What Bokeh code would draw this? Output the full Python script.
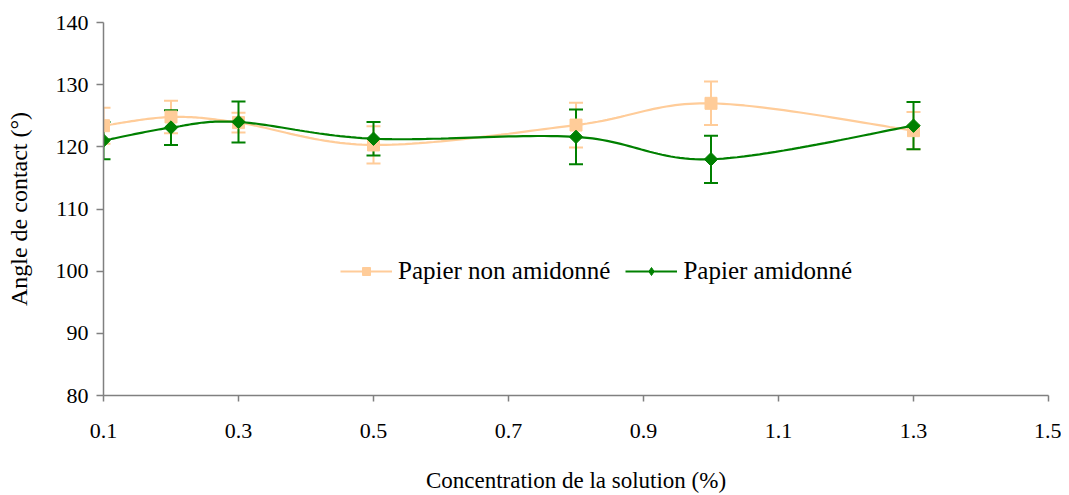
import numpy as np
from bokeh.plotting import figure
from bokeh.models import ColumnDataSource, Whisker, Range1d, FixedTicker, Legend, LegendItem
from bokeh.embed import file_html
from bokeh.resources import INLINE

# ---- data ----
concentration = [0.1, 0.2, 0.3, 0.5, 0.8, 1.0, 1.3]
non_starched = [123.4, 124.8, 123.9, 120.3, 123.5, 127.0, 122.6]
non_starched_err = [2.9, 2.6, 1.6, 3.0, 3.6, 3.5, 3.0]
starched = [121.0, 123.1, 124.0, 121.3, 121.6, 118.0, 123.4]
starched_err = [3.0, 2.8, 3.3, 2.7, 4.4, 3.8, 3.8]
x_ticks = [0.1, 0.3, 0.5, 0.7, 0.9, 1.1, 1.3, 1.5]
y_ticks = [80, 90, 100, 110, 120, 130, 140]
x_title = "Concentration de la solution (%)"
y_title = "Angle de contact (°)"
series_names = ["Papier non amidonné", "Papier amidonné"]

ORANGE = "#FFCC99"
GREEN = "#008000"
FONT = "'Liberation Serif', 'Times New Roman', serif"


def smooth(xs, ys, n=30):
    """Catmull-Rom style Bezier smoothing between the given points."""
    P = np.column_stack([xs, ys]).astype(float)
    out = [P[0]]
    for i in range(len(P) - 1):
        p0 = P[i - 1] if i > 0 else P[i]
        p1 = P[i]
        p2 = P[i + 1]
        p3 = P[i + 2] if i + 2 < len(P) else P[i + 1]
        c1 = p1 + (p2 - p0) / 6.0
        c2 = p2 - (p3 - p1) / 6.0
        t = np.linspace(0, 1, n)[1:, None]
        seg = ((1 - t) ** 3) * p1 + 3 * ((1 - t) ** 2) * t * c1 + 3 * (1 - t) * t ** 2 * c2 + t ** 3 * p2
        out.extend(seg)
    out = np.array(out)
    return out[:, 0], out[:, 1]


p = figure(width=1061, height=495, output_backend="svg", toolbar_location=None,
           x_range=Range1d(0.1, 1.5), y_range=Range1d(80, 140),
           min_border_left=103, min_border_right=13, min_border_top=22, min_border_bottom=100)
p.outline_line_color = None
p.xgrid.visible = False
p.ygrid.visible = False
p.background_fill_color = "white"
p.border_fill_color = "white"

for ax in (p.xaxis[0], p.yaxis[0]):
    ax.axis_line_color = "#808080"
    ax.axis_line_width = 1.5
    ax.major_tick_line_color = "#808080"
    ax.major_tick_line_width = 1.5
    ax.minor_tick_line_color = None
    ax.major_label_text_font = FONT
    ax.major_label_text_font_size = "22px"
    ax.major_label_text_color = "black"
    ax.axis_label_text_font = FONT
    ax.axis_label_text_font_style = "normal"
    ax.axis_label_text_color = "black"

p.xaxis.axis_label_text_font_size = "23px"
p.yaxis.axis_label_text_font_size = "24px"
p.xaxis.ticker = FixedTicker(ticks=x_ticks)
p.yaxis.ticker = FixedTicker(ticks=y_ticks)
p.xaxis.major_tick_in = 0
p.xaxis.major_tick_out = 6
p.yaxis.major_tick_in = 0
p.yaxis.major_tick_out = 7
p.xaxis.major_label_standoff = 22
p.yaxis.major_label_standoff = 8
p.xaxis.axis_label = x_title
p.yaxis.axis_label = y_title
p.xaxis.axis_label_standoff = 27
p.yaxis.axis_label_standoff = 21
p.xaxis.major_label_overrides = {t: f"{t:.1f}" for t in x_ticks}

# orange series
sx, sy = smooth(concentration, non_starched)
l1 = p.line(sx, sy, line_color=ORANGE, line_width=2.2)
src1 = ColumnDataSource(dict(x=concentration, y=non_starched,
                             lo=[v - e for v, e in zip(non_starched, non_starched_err)],
                             hi=[v + e for v, e in zip(non_starched, non_starched_err)]))
w1 = Whisker(source=src1, base="x", lower="lo", upper="hi", line_color=ORANGE, line_width=2)
for h in (w1.upper_head, w1.lower_head):
    h.size = 14
    h.line_color = ORANGE
    h.line_width = 2
p.add_layout(w1)
m1 = p.scatter("x", "y", source=src1, marker="square", size=12, fill_color=ORANGE, line_color=ORANGE)

# green series
gx, gy = smooth(concentration, starched)
l2 = p.line(gx, gy, line_color=GREEN, line_width=2.2)
src2 = ColumnDataSource(dict(x=concentration, y=starched,
                             lo=[v - e for v, e in zip(starched, starched_err)],
                             hi=[v + e for v, e in zip(starched, starched_err)]))
w2 = Whisker(source=src2, base="x", lower="lo", upper="hi", line_color=GREEN, line_width=2)
for h in (w2.upper_head, w2.lower_head):
    h.size = 14
    h.line_color = GREEN
    h.line_width = 2
p.add_layout(w2)
m2 = p.scatter("x", "y", source=src2, marker="square", angle=np.pi / 4, size=9.5,
               fill_color=GREEN, line_color=GREEN)
# legend swatch for the diamond marker (legend glyphs ignore rotation); not shown in the plot
m2_key = p.scatter(x=np.array([np.nan]), y=np.array([np.nan]), marker="diamond", size=17,
                   fill_color=GREEN, line_color=GREEN)

legend = Legend(items=[LegendItem(label=series_names[0], renderers=[l1, m1]),
                       LegendItem(label=series_names[1], renderers=[l2, m2_key])],
                orientation="horizontal", location=(237, 110))
legend.label_text_font = FONT
legend.label_text_font_size = "25px"
legend.label_text_color = "black"
legend.border_line_color = None
legend.background_fill_alpha = 0
legend.glyph_width = 52
legend.glyph_height = 20
legend.label_standoff = 6
legend.spacing = 15
legend.padding = 0
legend.margin = 0
p.add_layout(legend)

open("out.html", "w").write(file_html(p, INLINE))
